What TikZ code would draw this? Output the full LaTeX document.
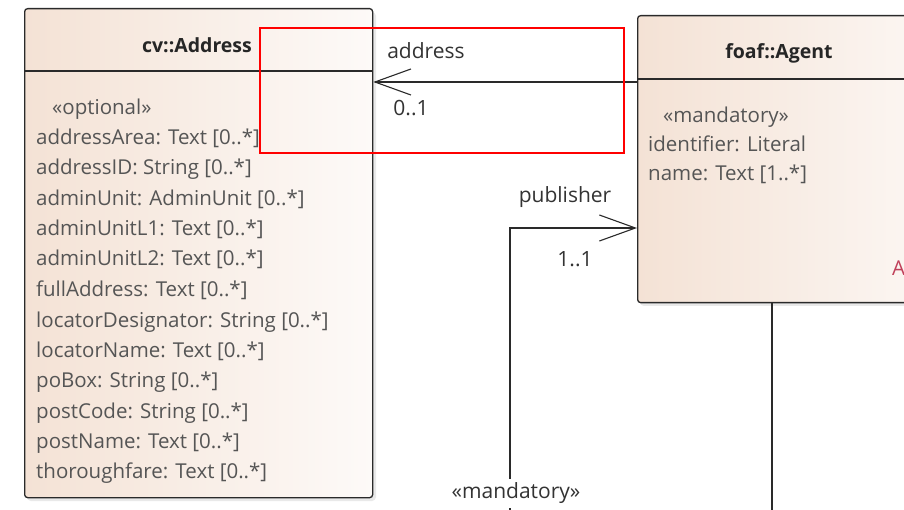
\documentclass[tikz,border=0pt]{standalone}
\usepackage{fontspec}
\setmainfont{Open Sans}
\usetikzlibrary{arrows.meta}
\definecolor{peachL}{HTML}{F4E2D5}
\definecolor{peachR}{HTML}{FDFAF8}
\definecolor{attrgray}{HTML}{555555}
\definecolor{linegray}{HTML}{2A2A2A}
\definecolor{absred}{HTML}{C0405A}
\tikzset{
  umlbox/.style={draw=linegray, line width=1.3pt, rounded corners=3pt, left color=peachL, right color=peachR, anchor=north west, inner sep=0pt},
  boxshadow/.style={fill=black!14, rounded corners=4pt},
  sepline/.style={draw=linegray, line width=1.1pt},
  title/.style={font=\fontsize{19.5}{23}\selectfont\bfseries, text=black!85},
  attr/.style={font=\fontsize{20.5}{24}\selectfont, text=attrgray, anchor=base west, inner sep=0pt},
  lbl/.style={font=\fontsize{21}{25}\selectfont, text=black!80, inner sep=0pt},
  conn/.style={draw=linegray, line width=1.1pt},
  openarrow/.style={-{Straight Barb[length=36pt,width=26pt,line width=1.1pt]}},
  annot/.style={draw=red, line width=1.5pt}
}
\begin{document}
\begin{tikzpicture}[x=1pt,y=-1pt]
\clip (0,0) rectangle (904,510);
\fill[white] (0,0) rectangle (904,510);
% shadows
\fill[boxshadow, opacity=0.6] (27,12) rectangle (376,501);
\fill[boxshadow, opacity=0.6] (640,19) rectangle (970,306);
% boxes
\node[umlbox, minimum width=348pt, minimum height=489pt] (addr) at (24,8) {};
\node[umlbox, minimum width=340pt, minimum height=287pt] (agent) at (637,15) {};
\coordinate (addrSep) at (0,71);
\coordinate (agentSep) at (0,79);
\draw[sepline] (addr.west |- addrSep) -- (addr.east |- addrSep);
\draw[sepline] (agent.west |- agentSep) -- (agent.east |- agentSep);
% titles
\node[title] (addrT) at (197,45) {cv::Address};
\node[title] (agentT) at (779,53) {foaf::Agent};
% address attributes
\node[attr] (a0) at (52,115) {«optional»};
\node[attr] (a1) at (36,145) {addressArea: Text [0..*]};
\node[attr] (a2) at (36,175) {addressID: String [0..*]};
\node[attr] (a3) at (36,205.5) {adminUnit: AdminUnit [0..*]};
\node[attr] (a4) at (36,236) {adminUnitL1: Text [0..*]};
\node[attr] (a5) at (36,266) {adminUnitL2: Text [0..*]};
\node[attr] (a6) at (36,296.5) {fullAddress: Text [0..*]};
\node[attr] (a7) at (36,327) {locatorDesignator: String [0..*]};
\node[attr] (a8) at (36,357) {locatorName: Text [0..*]};
\node[attr] (a9) at (36,387) {poBox: String [0..*]};
\node[attr] (a10) at (36,418) {postCode: String [0..*]};
\node[attr] (a11) at (36,448) {postName: Text [0..*]};
\node[attr] (a12) at (36,478) {thoroughfare: Text [0..*]};
% agent attributes
\node[attr] (g0) at (663,123) {«mandatory»};
\node[attr] (g1) at (648,152) {identifier: Literal};
\node[attr] (g2) at (648,181) {name: Text [1..*]};
\node[attr, text=absred] (g3) at (892,276) {A};
% address association
\coordinate (addrY) at (0,82);
\draw[conn, openarrow] (agent.west |- addrY) -- (addr.east |- addrY);
\node[lbl] (addrL) at (426,51) {address};
\node[lbl] (addrM) at (411,108) {0..1};
% publisher association
\coordinate (pubB) at (510,510);
\coordinate (pubY) at (0,228);
\draw[conn, openarrow] (pubB) |- (agent.west |- pubY);
\node[lbl] (pubL) at (565,197) {publisher};
\node[lbl] (pubM) at (575,259) {1..1};
\node[lbl, fill=white, inner xsep=2pt, inner ysep=4pt] (pubS) at (516,493) {«mandatory»};
% generalisation line from agent
\coordinate (genB) at (772,510);
\draw[conn] (agent.south -| genB) -- (genB);
% annotation rectangle
\draw[annot] (260,28) rectangle (624,153);
\end{tikzpicture}
\end{document}
